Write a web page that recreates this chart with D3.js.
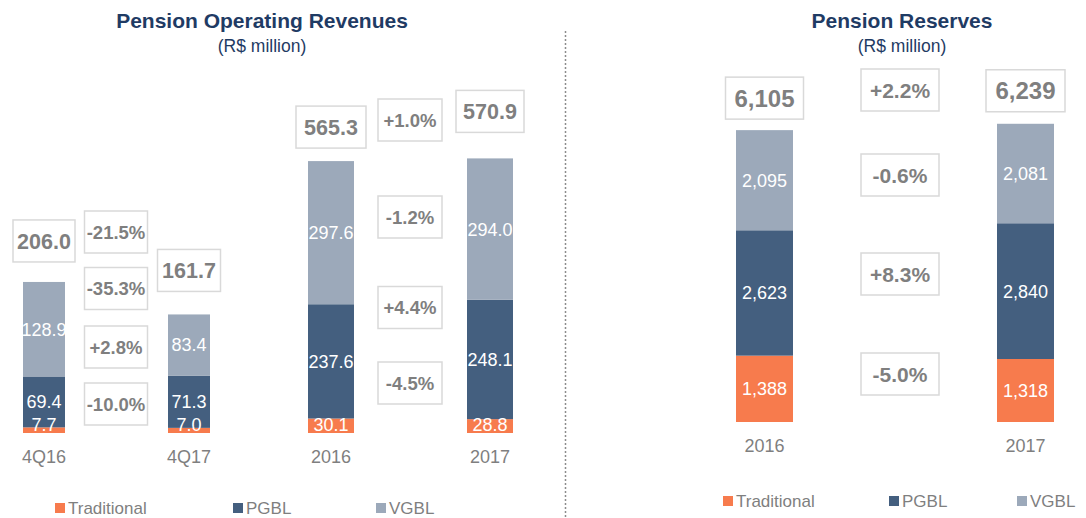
<!DOCTYPE html>
<html>
<head>
<meta charset="utf-8">
<script src="https://cdn.jsdelivr.net/npm/d3@7"></script>
<style>
  body { margin: 0; background: #fff; }
  svg { font-family: "Liberation Sans", Arial, sans-serif; }
</style>
</head>
<body>
<div id="chart"></div>
<script>
// --- data ---
const seriesNames = ['Traditional', 'PGBL', 'VGBL'];
const seriesColors = ['#F77B4D', '#445F7F', '#9CA9BA'];

const quarterCats = ['4Q16', '4Q17'];
const quarterTraditional = [7.7, 7.0];
const quarterPgbl = [69.4, 71.3];
const quarterVgbl = [128.9, 83.4];
const quarterTotals = ['206.0', '161.7'];
const quarterChanges = ['-21.5%', '-35.3%', '+2.8%', '-10.0%'];

const yearCats = ['2016', '2017'];
const yearTraditional = [30.1, 28.8];
const yearPgbl = [237.6, 248.1];
const yearVgbl = [297.6, 294.0];
const yearTotals = ['565.3', '570.9'];
const yearChanges = ['+1.0%', '-1.2%', '+4.4%', '-4.5%'];

const reserveCats = ['2016', '2017'];
const reserveTraditional = [1388, 1318];
const reservePgbl = [2623, 2840];
const reserveVgbl = [2095, 2081];
const reserveTotals = ['6,105', '6,239'];
const reserveChanges = ['+2.2%', '-0.6%', '+8.3%', '-5.0%'];

const W = 1086, H = 518;
const grey = '#7F7F7F';
const navy = '#1F3B64';

const svg = d3.select('#chart').append('svg')
  .attr('width', W)
  .attr('height', H);

// panels: layout only, values come from the arrays above
const panels = [{
  cats: quarterCats,
  values: [quarterTraditional, quarterPgbl, quarterVgbl],
  totals: quarterTotals,
  changes: quarterChanges,
  xRange: [44, 189],
  barWidth: 42,
  yDomain: [0, 250],
  yRange: [433, 249.7],
  fmt: d3.format('.1f'),
  labelSize: 18,
  totalSize: 21.5,
  totalBoxW: [62, 63],
  totalGap: [20, 23],
  changeSize: 18.5,
  changeX: 116,
  changeW: 63,
  changeY: [232, 288.5, 347, 404]
}, {
  cats: yearCats,
  values: [yearTraditional, yearPgbl, yearVgbl],
  totals: yearTotals,
  changes: yearChanges,
  xRange: [331, 490],
  barWidth: 46,
  yDomain: [0, 600],
  yRange: [433, 144.4],
  fmt: d3.format('.1f'),
  labelSize: 18,
  totalSize: 21.5,
  totalBoxW: [70, 68],
  totalGap: [13, 26],
  changeSize: 18.5,
  changeX: 410,
  changeW: 64,
  changeY: [120, 217, 307.5, 383]
}, {
  cats: reserveCats,
  values: [reserveTraditional, reservePgbl, reserveVgbl],
  totals: reserveTotals,
  changes: reserveChanges,
  xRange: [764.5, 1025.5],
  barWidth: 57,
  yDomain: [0, 7000],
  yRange: [422, 87.4],
  fmt: d3.format(','),
  labelSize: 18,
  totalSize: 24,
  totalBoxW: [78, 79],
  totalGap: [11, 12],
  changeSize: 21,
  changeX: 900,
  changeW: 78,
  changeY: [90, 175, 274, 374]
}];

function drawPanel(p) {
  const x = d3.scalePoint().domain(p.cats).range(p.xRange);
  const y = d3.scaleLinear().domain(p.yDomain).range(p.yRange);
  const g = svg.append('g');

  // stack the segments
  const rows = p.cats.map((c, i) => {
    const row = { cat: c };
    seriesNames.forEach((s, k) => { row[s] = p.values[k][i]; });
    return row;
  });
  const stacked = d3.stack().keys(seriesNames)(rows);

  const barLayer = g.append('g').attr('class', 'bars');
  const labelLayer = g.append('g').attr('class', 'labels');

  stacked.forEach((layer, k) => {
    barLayer.append('g')
      .selectAll('rect')
      .data(layer)
      .enter()
      .append('rect')
      .attr('x', d => x(d.data.cat) - p.barWidth / 2)
      .attr('y', d => y(d[1]))
      .attr('width', p.barWidth)
      .attr('height', d => y(d[0]) - y(d[1]))
      .style('fill', seriesColors[k]);
    labelLayer.append('g')
      .selectAll('text')
      .data(layer)
      .enter()
      .append('text')
      .attr('x', d => x(d.data.cat))
      .attr('y', d => Math.min((y(d[0]) + y(d[1])) / 2, y(0) - 8))
      .attr('dy', '0.36em')
      .attr('text-anchor', 'middle')
      .style('font-size', p.labelSize + 'px')
      .style('fill', '#fff')
      .text(d => p.fmt(d[1] - d[0]));
  });

  // category labels
  g.selectAll('.cat')
    .data(p.cats)
    .enter()
    .append('text')
    .attr('class', 'cat')
    .attr('x', d => x(d))
    .attr('y', y(0) + 24)
    .attr('dy', '0.36em')
    .attr('text-anchor', 'middle')
    .style('font-size', '18px')
    .style('fill', grey)
    .text(d => d);

  // total boxes above each bar
  const boxH = 42;
  p.cats.forEach((c, i) => {
    const top = y(d3.sum(p.values, v => v[i]));
    const cy = top - p.totalGap[i] - boxH / 2;
    const w = p.totalBoxW[i];
    g.append('rect')
      .attr('x', x(c) - w / 2)
      .attr('y', cy - boxH / 2)
      .attr('width', w)
      .attr('height', boxH)
      .style('fill', '#fff')
      .style('stroke', '#D9D9D9')
      .style('stroke-width', 1.5);
    g.append('text')
      .attr('x', x(c))
      .attr('y', cy)
      .attr('dy', '0.36em')
      .attr('text-anchor', 'middle')
      .style('font-size', p.totalSize + 'px')
      .style('font-weight', 'bold')
      .style('fill', grey)
      .text(p.totals[i]);
  });

  // change boxes between the bars
  p.changes.forEach((t, i) => {
    g.append('rect')
      .attr('x', p.changeX - p.changeW / 2)
      .attr('y', p.changeY[i] - boxH / 2)
      .attr('width', p.changeW)
      .attr('height', boxH)
      .style('fill', '#fff')
      .style('stroke', '#D9D9D9')
      .style('stroke-width', 1.5);
    g.append('text')
      .attr('x', p.changeX)
      .attr('y', p.changeY[i])
      .attr('dy', '0.36em')
      .attr('text-anchor', 'middle')
      .style('font-size', p.changeSize + 'px')
      .style('font-weight', 'bold')
      .style('fill', grey)
      .text(t);
  });
}

panels.forEach(drawPanel);

// titles
const titles = [
  { x: 262, text: 'Pension Operating Revenues' },
  { x: 902, text: 'Pension Reserves' }
];
titles.forEach(t => {
  svg.append('text')
    .attr('x', t.x)
    .attr('y', 28)
    .attr('text-anchor', 'middle')
    .style('font-size', '21px')
    .style('font-weight', 'bold')
    .style('fill', navy)
    .text(t.text);
  svg.append('text')
    .attr('x', t.x)
    .attr('y', 52)
    .attr('text-anchor', 'middle')
    .style('font-size', '17.5px')
    .style('fill', navy)
    .text('(R$ million)');
});

// dotted divider
svg.append('line')
  .attr('x1', 565.5)
  .attr('x2', 565.5)
  .attr('y1', 31)
  .attr('y2', H)
  .style('stroke', '#8C8C8C')
  .style('stroke-width', 1.5)
  .style('stroke-dasharray', '2,2');

// legends
const legends = [
  { y: 508, xs: [55, 233, 376] },
  { y: 501, xs: [723, 889, 1017] }
];
legends.forEach(l => {
  seriesNames.forEach((s, k) => {
    svg.append('rect')
      .attr('x', l.xs[k])
      .attr('y', l.y - 5)
      .attr('width', 10)
      .attr('height', 10)
      .style('fill', seriesColors[k]);
    svg.append('text')
      .attr('x', l.xs[k] + 13)
      .attr('y', l.y)
      .attr('dy', '0.36em')
      .style('font-size', '17px')
      .style('fill', grey)
      .text(s);
  });
});
</script>
</body>
</html>
